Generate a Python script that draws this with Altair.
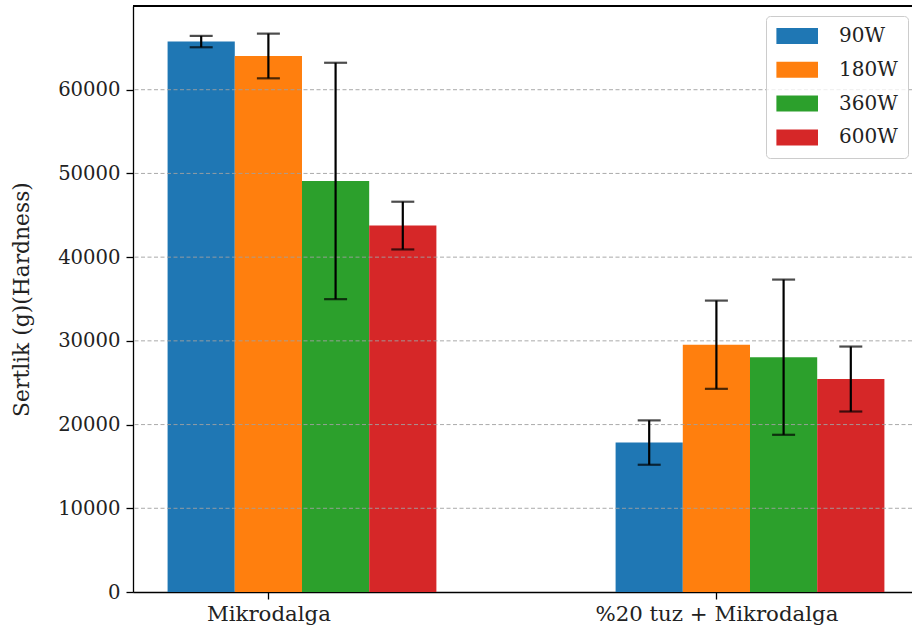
import altair as alt
import pandas as pd

# ---- data ----
groups = ["Mikrodalga", "%20 tuz + Mikrodalga"]
series = ["90W", "180W", "360W", "600W"]
colors = ["#1f77b4", "#ff7f0e", "#2ca02c", "#d62728"]

mean_mikro = [65750, 64030, 49100, 43770]
err_mikro = [680, 2670, 14120, 2850]
mean_tuz = [17850, 29540, 28050, 25440]
err_tuz = [2650, 5270, 9270, 3880]

y_ticks = [0, 10000, 20000, 30000, 40000, 50000, 60000]
Y_MAX = 70000

rows = []
for gi, (means, errs) in enumerate([(mean_mikro, err_mikro), (mean_tuz, err_tuz)]):
    for si, s in enumerate(series):
        rows.append({"group": groups[gi], "gi": gi, "series": s, "si": si,
                     "value": means[si], "err": errs[si]})
df = pd.DataFrame(rows)
grid_df = pd.DataFrame({"v": y_ticks[1:]})

BW = 0.15
FONT = "DejaVu Serif"

xscale = alt.Scale(domain=[-0.3022, 1.4366], nice=False, zero=False)
yscale = alt.Scale(domain=[0, Y_MAX], nice=False)

label_expr = "datum.value == 0 ? '%s' : '%s'" % (groups[0], groups[1])

base = alt.Chart(df).transform_calculate(
    xc=f"datum.gi + (datum.si - 1) * {BW}",
    x0=f"datum.gi + (datum.si - 1) * {BW} - {BW/2}",
    x1=f"datum.gi + (datum.si - 1) * {BW} + {BW/2}",
    lo="datum.value - datum.err",
    hi="datum.value + datum.err",
)

bars = base.mark_bar().encode(
    x=alt.X("x0:Q", scale=xscale, title=None,
            axis=alt.Axis(values=[0, 1], labelExpr=label_expr, grid=False,
                          tickSize=7, labelPadding=4, labelLimit=500,
                          domainColor="black",
                          domainWidth=1.3, tickColor="black", tickWidth=1.3,
                          labelFont=FONT, labelFontSize=21.3, labelColor="#222222")),
    x2="x1:Q",
    y=alt.Y("value:Q", scale=yscale, title="Sertlik (g)(Hardness)",
            axis=alt.Axis(values=y_ticks, format="d", grid=False, tickSize=7,
                          labelPadding=6, domainColor="black", domainWidth=1.3,
                          tickColor="black", tickWidth=1.3,
                          labelFont=FONT, labelFontSize=19.6, labelColor="#222222",
                          titleFont=FONT, titleFontSize=21.8, titleFontWeight="normal",
                          titleColor="#222222", titlePadding=24)),
    y2=alt.datum(0),
    color=alt.Color("series:N", scale=alt.Scale(domain=series, range=colors),
                    legend=alt.Legend(
                        title=None, orient="none", legendX=633, legendY=10,
                        symbolType="M-1.2,-1H4,V1H-1.2Z", symbolSize=256,
                        symbolStrokeWidth=0, symbolOpacity=1,
                        labelFont=FONT, labelFontSize=20, labelColor="#222222",
                        labelOffset=43, rowPadding=13.8, padding=10,
                        strokeColor="#cccccc", fillColor="rgba(255,255,255,0.8)",
                        cornerRadius=4)),
)

grid = alt.Chart(grid_df).mark_rule(
    color="#a0a0a0", strokeWidth=0.9, strokeDash=[4, 2.5]
).encode(y=alt.Y("v:Q", scale=yscale))

err_line = base.mark_rule(color="black", strokeWidth=2.2).encode(
    x=alt.X("xc:Q", scale=xscale), y=alt.Y("lo:Q", scale=yscale), y2="hi:Q")
cap_lo = base.mark_tick(color="black", orient="horizontal", size=23, thickness=2.2).encode(
    x=alt.X("xc:Q", scale=xscale), y=alt.Y("lo:Q", scale=yscale))
cap_hi = base.mark_tick(color="black", orient="horizontal", size=23, thickness=2.2).encode(
    x=alt.X("xc:Q", scale=xscale), y=alt.Y("hi:Q", scale=yscale))

top_spine = alt.Chart(grid_df).mark_rule(color="black", strokeWidth=1.3).encode(
    x=alt.value(0), x2=alt.value(779), y=alt.value(0))

chart = alt.layer(bars, grid, err_line, cap_lo, cap_hi, top_spine).properties(
    width=779, height=586,
    autosize=alt.AutoSizeParams(type="none"),
    padding={"left": 133, "top": 6, "right": 0, "bottom": 40},
).configure_view(stroke=None).configure(background="white")

chart.save("out.html", embed_options={"renderer": "svg", "actions": False})
